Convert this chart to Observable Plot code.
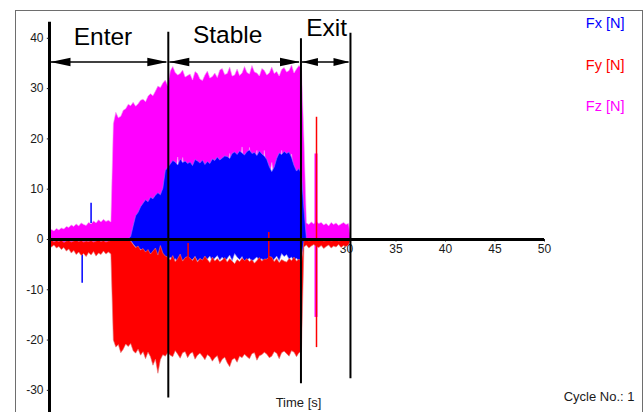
<!DOCTYPE html>
<html>
<head>
<meta charset="utf-8">
<script src="https://cdn.jsdelivr.net/npm/d3@7"></script>
<script src="https://cdn.jsdelivr.net/npm/@observablehq/plot@0.6"></script>
<style>
  html, body { margin: 0; padding: 0; background: #fff; }
  #wrap { position: relative; width: 644px; height: 412px; overflow: hidden; }
  #border { position: absolute; left: 15px; top: 10px; width: 626px; height: 420px;
            border: 1.5px solid #6e6e6e; border-bottom: none; }
  #chart { position: absolute; left: 0; top: 0; }
</style>
</head>
<body>
<div id="wrap"><div id="border"></div><div id="chart"></div></div>
<script>
// Sample times [s]; each sample holds the min/max envelope of the force signal in its 0.25 s bin
const time = [
  0, 0.25, 0.5, 0.75, 1, 1.25, 1.5, 1.75,
  2, 2.25, 2.5, 2.75, 3, 3.25, 3.5, 3.75,
  4, 4.25, 4.5, 4.75, 5, 5.25, 5.5, 5.75,
  6, 6.25, 6.5, 6.75, 7, 7.25, 7.5, 7.75,
  8, 8.25, 8.5, 8.75, 9, 9.25, 9.5, 9.75,
  10, 10.25, 10.5, 10.75, 11, 11.25, 11.5, 11.75,
  12, 12.25, 12.5, 12.75, 13, 13.25, 13.5, 13.75,
  14, 14.25, 14.5, 14.75, 15, 15.25, 15.5, 15.75,
  16, 16.25, 16.5, 16.75, 17, 17.25, 17.5, 17.75,
  18, 18.25, 18.5, 18.75, 19, 19.25, 19.5, 19.75,
  20, 20.25, 20.5, 20.75, 21, 21.25, 21.5, 21.75,
  22, 22.25, 22.5, 22.75, 23, 23.25, 23.5, 23.75,
  24, 24.25, 24.5, 24.75, 25, 25.25, 25.5, 25.75,
  26, 26.25, 26.5, 26.75, 27, 27.25, 27.5, 27.75,
  28, 28.25, 28.5, 28.75, 29, 29.25, 29.5, 29.75,
  30, 30.25, 30.5
];

// Fx [N]
const fxMax = [
  0, 0, 0, 0, 0, 0, 0, 0,
  0, 0, 0, 0, 0, 0, 0, 0,
  0, 0, 0, 0, 0, 0, 0, 0,
  0, 0, 0, 0, 0, 0, 0, 0,
  0, 0.5, 2.6, 4.6, 5.3, 6.4, 7.1, 7.8,
  7.4, 8.3, 8.0, 8.7, 9.2, 8.8, 10.1, 13.6,
  14.3, 14.9, 15.6, 15.3, 14.7, 15.9, 15.2, 15.5,
  15.0, 15.3, 14.6, 15.8, 15.5, 15.1, 15.7, 14.8,
  15.4, 15.0, 15.9, 15.6, 16.3, 15.7, 16.1, 16.5,
  16.4, 16.0, 17.0, 17.3, 16.8, 17.5, 17.1, 16.7,
  17.4, 17.7, 17.0, 17.2, 16.6, 17.5, 16.9, 16.5,
  15.8, 14.4, 13.4, 14.3, 16.0, 17.1, 16.8, 17.4,
  17.0, 17.3, 16.2, 14.6, 13.5, 14.0, 12.9, 6.0,
  0, 0, 0, 0, 0, 0, 0, 0,
  0, 0, 0, 0, 0, 0, 0, 0,
  0, 0, 0
];
const fxMin = [
  0, 0, 0, 0, 0, 0, 0, 0,
  0, 0, 0, 0, 0, 0, 0, 0,
  0, 0, 0, 0, 0, 0, 0, 0,
  0, 0, 0, 0, 0, 0, 0, 0,
  0, -0.3, -1.0, -1.6, -2.2, -2.0, -2.8, -2.5,
  -3.2, -2.9, -3.6, -3.3, -3.9, -3.5, -4.1, -3.8,
  -4.2, -3.6, -4.5, -3.9, -4.8, -3.7, -4.3, -4.0,
  -3.8, -4.6, -4.1, -3.5, -4.4, -3.9, -4.7, -4.2,
  -4.0, -3.4, -4.5, -3.8, -3.3, -4.2, -3.6, -4.4,
  -3.9, -3.2, -4.3, -2.9, -3.6, -4.1, -3.5, -4.6,
  -4.2, -3.8, -4.5, -4.0, -3.6, -4.4, -3.9, -4.7,
  -4.1, -3.7, -4.6, -4.0, -3.4, -4.3, -2.9, -3.5,
  -3.1, -4.0, -3.6, -4.4, -3.8, -4.5, -4.1, -1.0,
  0, 0, 0, 0, 0, 0, 0, 0,
  0, 0, 0, 0, 0, 0, 0, 0,
  0, 0, 0
];

// Fy [N]
const fyMax = [
  -0.4, -0.2, -0.6, -0.3, -0.5, -0.2, -0.7, -0.4,
  -0.3, -0.6, -0.4, -0.2, -0.5, -0.3, -0.6, -0.4,
  -0.5, -0.3, -0.6, -0.4, -0.2, -0.5, -0.3, -0.6,
  -0.4, -0.3, -0.2, -0.1, -0.2, -0.1, -0.2, -0.1,
  -0.2, -0.4, -1.1, -1.7, -1.4, -2.2, -1.9, -2.6,
  -2.1, -3.0, -2.4, -1.8, -3.2, -1.3, -2.8, -3.4,
  -3.6, -4.2, -3.3, -4.5, -3.9, -3.0, -4.4, -3.7,
  -3.5, -3.8, -4.3, -3.5, -4.6, -3.9, -4.2, -3.4,
  -4.1, -4.7, -3.6, -4.4, -3.9, -4.5, -4.2, -3.7,
  -4.6, -3.9, -4.4, -4.9, -4.1, -4.5, -3.8, -4.3,
  -3.9, -4.5, -4.1, -4.8, -4.3, -3.7, -4.4, -4.0,
  -4.0, -3.5, -3.6, -4.5, -3.9, -4.7, -4.1, -4.4,
  -4.6, -3.9, -4.3, -3.6, -4.4, -4.0, -4.5, -0.3,
  -0.2, -0.4, -0.3, -0.2, -0.3, -0.3, -0.2, -0.4,
  -0.3, -0.2, -0.4, -0.3, -0.2, -0.4, -0.3, -0.2,
  -0.3, -0.2, 0
];
const fyMin = [
  -1.3, -1.6, -1.2, -1.8, -1.5, -2.1, -1.7, -2.4,
  -2.0, -2.8, -2.3, -3.1, -2.6, -3.3, -2.9, -3.5,
  -2.7, -3.2, -2.5, -3.4, -2.8, -3.1, -2.4, -3.0,
  -2.6, -3.0, -20.1, -21.5, -21.0, -22.6, -21.9, -20.9,
  -21.4, -20.8, -22.2, -22.7, -21.9, -23.1, -22.4, -23.8,
  -22.5, -23.4, -25.1, -23.9, -26.7, -24.0, -23.0, -23.3,
  -22.6, -23.1, -23.4, -22.2, -22.9, -23.7, -22.6, -22.4,
  -23.6, -22.8, -22.5, -23.9, -23.1, -22.7, -23.3, -24.0,
  -23.0, -23.4, -24.3, -23.6, -23.2, -24.8, -23.9, -23.5,
  -24.6, -25.4, -24.0, -23.7, -24.5, -23.3, -23.6, -22.9,
  -23.4, -23.8, -22.8, -22.6, -24.1, -23.2, -23.0, -22.5,
  -22.9, -23.6, -23.3, -22.4, -22.7, -23.8, -22.6, -22.3,
  -22.8, -23.3, -22.2, -22.5, -23.4, -22.6, -22.4, -1.6,
  -1.2, -1.8, -1.4, -1.1, -1.5, -1.7, -1.3, -1.9,
  -1.5, -1.2, -1.8, -1.4, -1.6, -1.1, -1.7, -1.3,
  -1.5, -1.2, 0
];

// Fz [N]
const fzMax = [
  1.4, 1.9, 1.6, 2.1, 1.8, 2.2, 2.0, 2.5,
  2.3, 2.8, 2.5, 3.0, 2.6, 3.2, 2.9, 2.7,
  3.3, 3.0, 3.6, 3.2, 3.8, 3.4, 3.9, 3.5,
  3.7, 3.4, 22.9, 25.2, 24.1, 24.4, 25.6, 25.9,
  26.8, 26.5, 27.2, 26.4, 26.9, 27.6, 27.8, 27.3,
  28.4, 28.9, 28.5, 29.4, 30.4, 30.1, 31.0, 31.6,
  30.4, 33.4, 34.3, 33.1, 32.6, 32.9, 33.6, 32.2,
  32.5, 32.8, 31.6, 33.3, 32.9, 31.8, 31.5, 32.6,
  33.4, 32.0, 32.3, 33.0, 32.1, 33.6, 33.9, 32.7,
  32.9, 34.2, 32.4, 32.6, 33.8, 32.5, 33.0, 34.3,
  33.1, 32.8, 34.5, 33.2, 33.0, 32.4, 33.9, 33.5,
  32.6, 33.0, 34.2, 32.9, 33.3, 32.4, 33.7, 34.1,
  33.2, 33.5, 34.6, 33.0, 33.8, 34.5, 33.9, 20.0,
  3.2, 2.9, 3.4, 3.0, 3.5, 3.1, 3.3, 2.8,
  3.1, 2.6, 3.3, 2.9, 3.2, 2.7, 3.0, 3.3,
  2.9, 3.1, 0
];
const fzMin = [
  -0.8, -1.1, -0.9, -1.2, -1.0, -1.3, -0.9, -1.1,
  -1.2, -0.8, -1.3, -1.0, -1.2, -0.9, -1.1, -1.3,
  -1.0, -1.2, -0.9, -1.1, -1.3, -1.0, -1.2, -0.9,
  -1.1, -1.0, -1.2, -1.0, -1.3, -1.1, -0.9, -1.2,
  -1.0, -1.2, 0, 0, 0, 0, 0, 0,
  0, 0, 0, 0, 0, 0, 0, 0,
  12, 12, 12, 12, 16.3, 12, 16.2, 12,
  12, 12, 12, 12, 12, 12, 12, 12,
  12, 12, 12, 12, 12, 12, 12, 12,
  12, 17.0, 12, 12, 12, 12, 18.3, 12,
  12, 18.2, 12, 12, 17.6, 12, 12, 17.6,
  12, 12, 15.2, 12, 12, 12, 17.6, 12,
  12, 12, 16.9, 12, 12, 12, 12, 0,
  -0.6, -0.4, -0.7, -0.5, -0.6, -0.4, -0.6, -0.4,
  -0.5, -0.7, -0.4, -0.6, -0.5, -0.7, -0.4, -0.6,
  -0.5, -0.6, 0
];

// Isolated single-sample spikes
const spikeSeries = [0, 0, 1, 1, 2, 1];
const spikeTime = [3.3, 4.2, 14.0, 22.15, 26.92, 26.97];
const spikeLow = [-8.7, 3.2, -3.8, -4.0, -15.5, -21.5];
const spikeHigh = [-2.0, 7.2, -0.8, 1.4, 17.0, 24.3];

const seriesNames = ["Fx [N]", "Fy [N]", "Fz [N]"];
const seriesColors = ["#0000ff", "#ff0000", "#ff00ff"];
const edgeColors = ["#8080ff", "#e07878", "#f59af5"];

// Test phases and their boundaries
const phaseNames = ["Enter", "Stable", "Exit"];
const phaseStart = [0, 12, 25.4];
const phaseEnd = [12, 25.4, 30.4];
const boundaryTop = [41.2, 39.9, 41.0];
const boundaryBottom = [-31.5, -28.7, -27.7];

const xTicks = [5, 10, 15, 20, 25, 30, 35, 40, 45, 50];
const yTicks = [-30, -20, -10, 0, 10, 20, 30, 40];

const font = "'Liberation Sans', Arial, Helvetica, sans-serif";
const idx = time.map((_, i) => i);
const phaseIdx = phaseNames.map((_, i) => i);

// Envelope of one signal drawn as a band between its min and max
const band = (lo, hi, k) =>
  Plot.areaY(idx, { x: i => time[i], y1: i => lo[i], y2: i => hi[i], fill: seriesColors[k],
                    stroke: edgeColors[k], strokeWidth: 0.6, curve: "linear" });
const spikes = (k, width) =>
  Plot.ruleX(spikeTime.map((_, j) => j).filter(j => spikeSeries[j] === k),
             { x: j => spikeTime[j], y1: j => spikeLow[j], y2: j => spikeHigh[j], stroke: seriesColors[k], strokeWidth: width });

// Filled arrowheads, tip at the anchor point
const headRight = (len, half) => ({ draw(ctx) { ctx.moveTo(0, 0); ctx.lineTo(-len, -half); ctx.lineTo(-len, half); ctx.closePath(); } });
const headLeft = (len, half) => ({ draw(ctx) { ctx.moveTo(0, 0); ctx.lineTo(len, -half); ctx.lineTo(len, half); ctx.closePath(); } });

const arrowLevel = 35.3;
const wide = phaseIdx.filter(i => phaseEnd[i] - phaseStart[i] > 8);
const narrow = phaseIdx.filter(i => phaseEnd[i] - phaseStart[i] <= 8);

// Phase label placement (centre, baseline)
const labelX = [5.4, 18.0, 28.0];
const labelY = [38.6, 39.0, 40.4];

const legendDy = [2.3, 44.3, 85.3];

const chart = Plot.plot({
  width: 644,
  height: 412,
  marginLeft: 49,
  marginRight: 100,
  marginTop: 20.7,
  marginBottom: 0,
  x: { domain: [0, 50], axis: null },
  y: { domain: [-34.4, 43.4], axis: null },
  style: { fontFamily: font, fontSize: "12px", color: "#1a1a1a", background: "transparent", overflow: "visible" },
  marks: [
    // x tick labels sit beneath the signals
    Plot.text(xTicks, { x: d => d, y: 0, dy: 9.5, text: d => String(d), fontSize: 12, fill: "#1a1a1a" }),
    Plot.ruleX(xTicks, { x: d => d, y1: 0, y2: -0.5, stroke: "#1a1a1a", strokeWidth: 1 }),

    band(fzMin, fzMax, 2),
    spikes(2, 3),
    band(fxMin, fxMax, 0),
    spikes(0, 1.5),
    band(fyMin, fyMax, 1),
    spikes(1, 1.5),

    // axes
    Plot.ruleY([0], { x1: 0, x2: 50, stroke: "black", strokeWidth: 3 }),
    Plot.ruleX([0], { y1: -34.4, y2: 43.2, stroke: "black", strokeWidth: 3 }),
    Plot.ruleY(yTicks, { y: d => d, x1: -0.22, x2: 0, stroke: "#1a1a1a", strokeWidth: 1 }),
    Plot.text(yTicks, { x: 0, y: d => d, dx: -6, textAnchor: "end", text: d => String(d), fontSize: 12, fill: "#1a1a1a" }),

    // phase boundaries
    Plot.ruleX(phaseIdx, { x: i => phaseEnd[i], y1: i => boundaryBottom[i], y2: i => boundaryTop[i], stroke: "black", strokeWidth: 2 }),

    // double-headed phase arrows
    Plot.ruleY(phaseIdx, { y: arrowLevel, x1: i => phaseStart[i] + 0.15, x2: i => phaseEnd[i] - 0.15, stroke: "black", strokeWidth: 1.6 }),
    Plot.dot(wide, { x: i => phaseStart[i] + 0.1, y: arrowLevel, symbol: headLeft(20, 4.3), fill: "black", stroke: "none", r: 5 }),
    Plot.dot(wide, { x: i => phaseEnd[i] - 0.1, y: arrowLevel, symbol: headRight(20, 4.3), fill: "black", stroke: "none", r: 5 }),
    Plot.dot(narrow, { x: i => phaseStart[i] + 0.1, y: arrowLevel, symbol: headLeft(16, 4), fill: "black", stroke: "none", r: 5 }),
    Plot.dot(narrow, { x: i => phaseEnd[i] - 0.1, y: arrowLevel, symbol: headRight(16, 4), fill: "black", stroke: "none", r: 5 }),
    Plot.text(phaseIdx, { x: i => labelX[i], y: i => labelY[i], text: i => phaseNames[i], fontSize: 24.5, lineAnchor: "bottom", fill: "black" }),

    // legend
    ...seriesNames.map((name, k) =>
      Plot.text([name], { text: d => d, frameAnchor: "top-right", lineAnchor: "middle", dx: 80, dy: legendDy[k], textAnchor: "end", fontSize: 14.5, fill: seriesColors[k] })
    ),

    // captions
    Plot.text(["Time [s]"], { text: d => d, frameAnchor: "bottom", lineAnchor: "middle", dx: 1.5, dy: -10, fontSize: 13, fill: "#1a1a1a" }),
    Plot.text(["Cycle No.: 1"], { text: d => d, frameAnchor: "bottom-right", lineAnchor: "middle", dx: 90, dy: -16, textAnchor: "end", fontSize: 13, fill: "#1a1a1a" })
  ]
});

document.getElementById("chart").appendChild(chart);
</script>
</body>
</html>
